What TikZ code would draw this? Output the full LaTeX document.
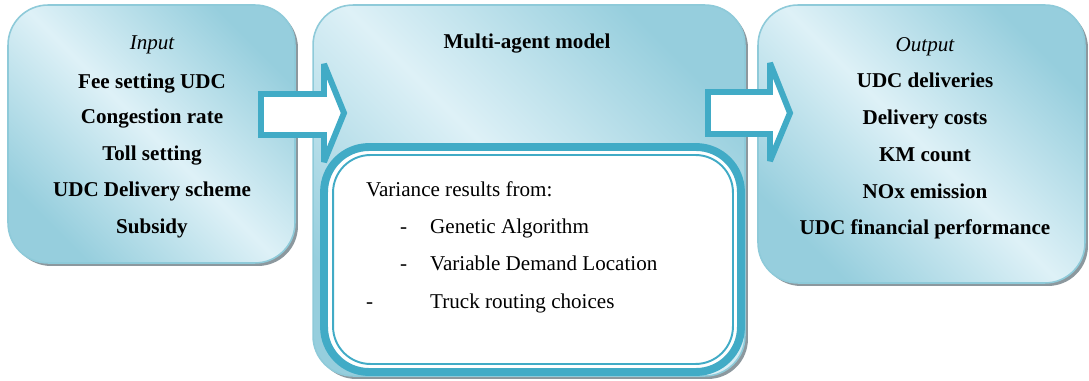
\documentclass[tikz,border=0pt]{standalone}
\usepackage{fontspec}
\setmainfont{Liberation Serif}
\usetikzlibrary{positioning, shadows}
\definecolor{boxlight}{RGB}{222,241,247}
\definecolor{boxdark}{RGB}{150,206,221}
\definecolor{boxline}{RGB}{142,202,217}
\definecolor{arrowblue}{RGB}{65,171,198}
\definecolor{shadowgray}{RGB}{140,152,158}

\begin{document}
\begin{tikzpicture}[
        x=0.02cm, y=-0.02cm,
        panel/.style={
            rectangle,
            draw=boxline,
            line width=0.9pt,
            rounded corners=0.8cm,
            top color=boxdark,
            bottom color=boxdark,
            middle color=boxlight,
            shading angle=-45,
            general shadow={fill=shadowgray, shadow xshift=0.06cm, shadow yshift=-0.06cm}
        },
        frame/.style={
            rectangle,
            draw=arrowblue,
            fill=white,
            line width=4.5pt,
            rounded corners=0.9cm
        },
        innerline/.style={
            rectangle,
            draw=arrowblue,
            line width=1.1pt,
            rounded corners=0.75cm
        },
        blockarrow/.style={
            draw=arrowblue,
            fill=white,
            line width=3.4pt,
            miter limit=4
        },
        title/.style={
            anchor=base,
            font=\fontsize{12}{14}\selectfont\itshape
        },
        item/.style={
            anchor=base,
            font=\fontsize{12}{14}\selectfont\bfseries
        },
        plain/.style={
            anchor=base west,
            font=\fontsize{12}{14}\selectfont
        }
    ]

    \useasboundingbox (0,0) rectangle (1089,381);

    % Panels
    \node[panel, minimum width=5.74cm, minimum height=5.16cm] (input) at (151.5,134) {};
    \node[panel, minimum width=8.64cm, minimum height=7.42cm] (model) at (529,190.5) {};
    \node[panel, minimum width=6.54cm, minimum height=5.56cm] (output) at (921.5,144) {};

    % Variance frame
    \node[frame, minimum width=8.34cm, minimum height=4.5cm] (variance) at (532.5,259.5) {};
    \node[innerline, minimum width=8.0cm, minimum height=4.18cm] (varianceline) at (533,259.5) {};

    % Block arrows
    \draw[blockarrow] (261,94) -- (324,94) -- (324,64) -- (344,113) -- (324,162)
        -- (324,135) -- (261,135) -- cycle;
    \draw[blockarrow] (708,92) -- (770,92) -- (770,63) -- (790,113) -- (770,161)
        -- (770,134) -- (708,134) -- cycle;

    % Input texts
    \node[title] (input_title) at (152,50) {Input};
    \node[item] (fee) at (152,89) {Fee setting UDC};
    \node[item] (congestion) at (152,124) {Congestion rate};
    \node[item] (toll) at (152,161) {Toll setting};
    \node[item] (scheme) at (152,197) {UDC Delivery scheme};
    \node[item] (subsidy) at (152,234) {Subsidy};

    % Model texts
    \node[item] (model_title) at (527,49) {Multi-agent model};
    \node[plain] (var_head) at (360,197) {Variance results from:};
    \node[plain] (dash_ga) at (394,234) {-};
    \node[plain] (ga) at (424,234) {Genetic Algorithm};
    \node[plain] (dash_demand) at (394,271) {-};
    \node[plain] (demand) at (424,271) {Variable Demand Location};
    \node[plain] (dash_truck) at (360,309) {-};
    \node[plain] (truck) at (424,309) {Truck routing choices};

    % Output texts
    \node[title] (output_title) at (925,52) {Output};
    \node[item] (deliveries) at (925,88) {UDC deliveries};
    \node[item] (costs) at (925,125) {Delivery costs};
    \node[item] (km) at (925,162) {KM count};
    \node[item] (nox) at (925,199) {NOx emission};
    \node[item] (financial) at (925,235) {UDC financial performance};

\end{tikzpicture}
\end{document}
